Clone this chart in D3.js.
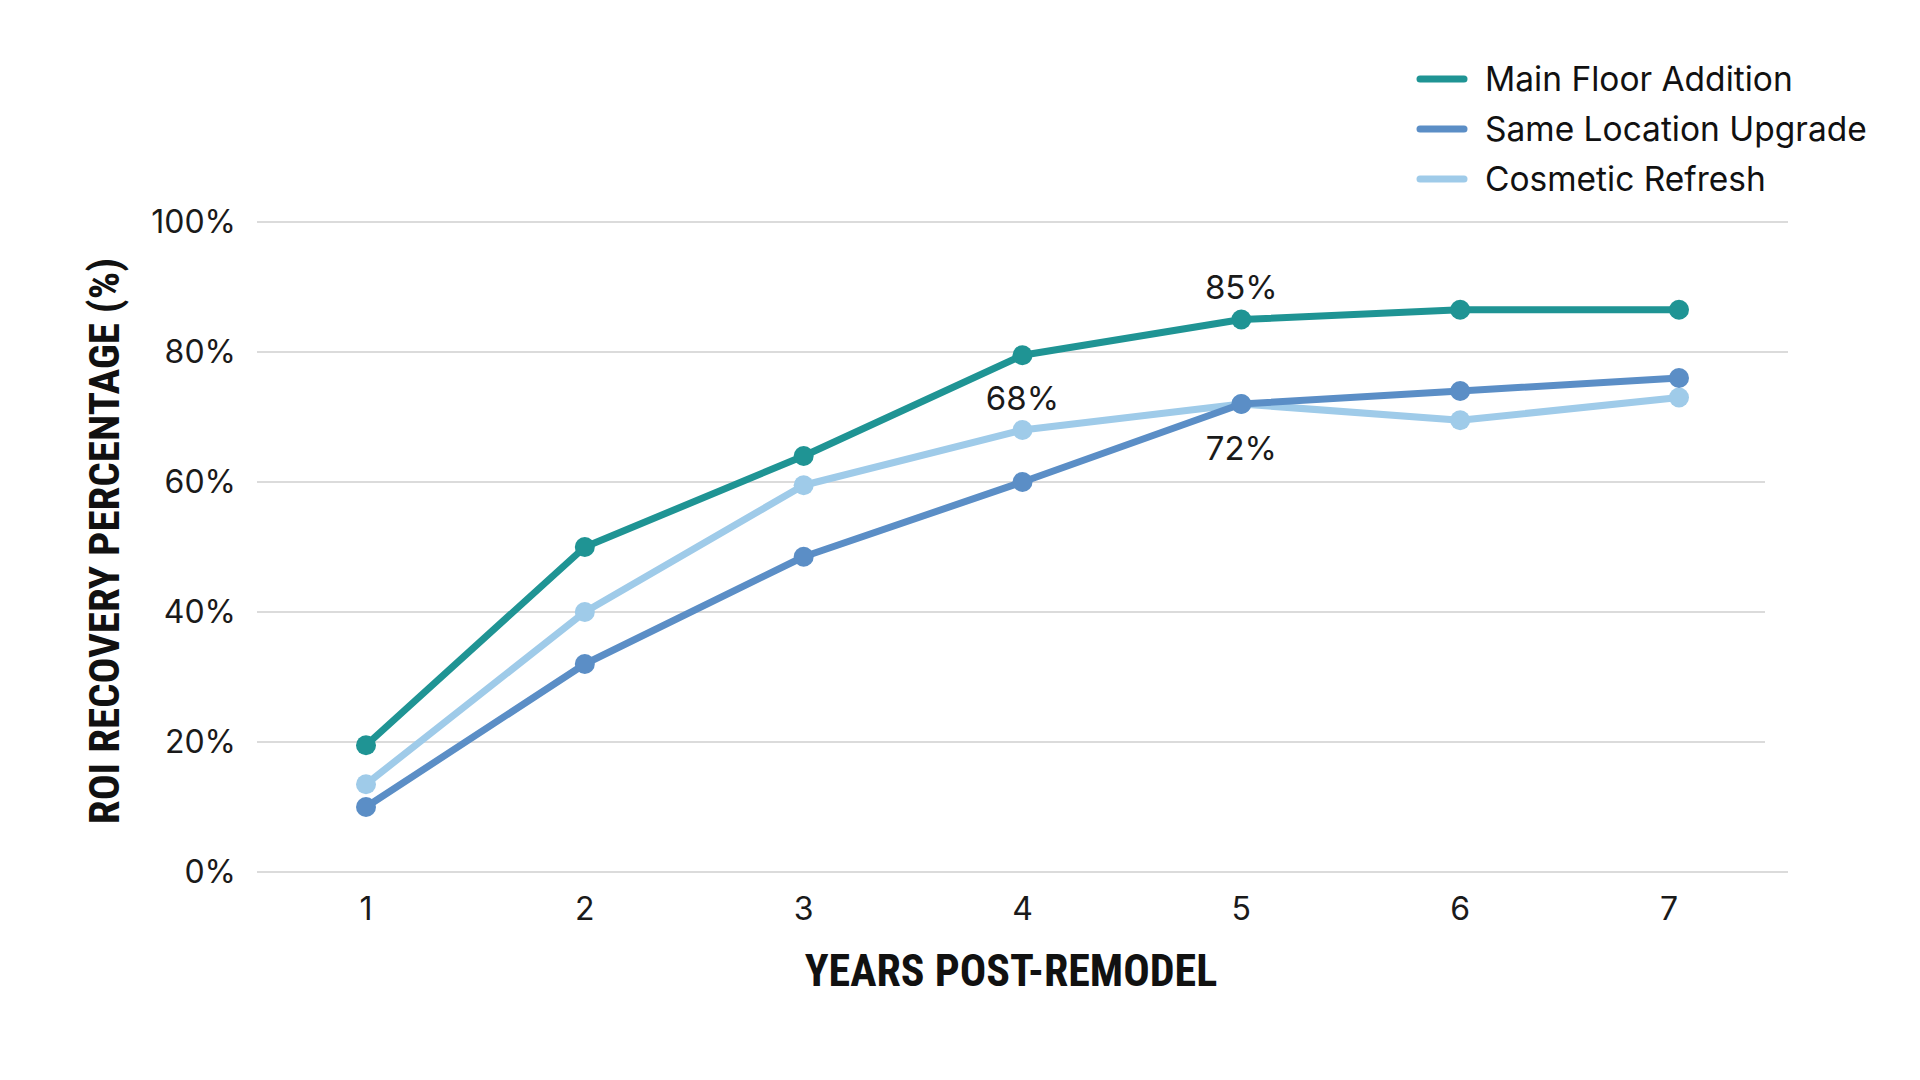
<!DOCTYPE html>
<html>
<head>
<meta charset="utf-8">
<script src="https://cdn.jsdelivr.net/npm/d3@7"></script>
<style>
  body { margin: 0; background: #fff; }
  svg { display: block; }
</style>
</head>
<body>
<svg id="chart"></svg>
<script>
// ---- data ----
const years = [1, 2, 3, 4, 5, 6, 7];
const mainFloor = [19.5, 50, 64, 79.5, 85, 86.5, 86.5];
const sameLocation = [10, 32, 48.5, 60, 72, 74, 76];
const cosmetic = [13.5, 40, 59.5, 68, 72, 69.5, 73];
const seriesNames = ["Main Floor Addition", "Same Location Upgrade", "Cosmetic Refresh"];
const seriesColors = ["#1f9494", "#5b8ec6", "#9fcbe9"];
const yTicks = [0, 20, 40, 60, 80, 100];
// annotations: [series index, year, text, placement]
const notes = [[0, 5, "85%", "above"], [2, 4, "68%", "above"], [1, 5, "72%", "below"]];

const width = 1920, height = 1080;
const font = "Inter, 'Open Sans', sans-serif";
const titleFont = "'Liberation Sans Narrow', 'Roboto Condensed', sans-serif";

const svg = d3.select("#chart").attr("width", width).attr("height", height);

const x = d3.scaleLinear().domain([1, 7]).range([366, 1679]);
const y = d3.scaleLinear().domain([0, 100]).range([872, 222]);

// gridlines (middle ones are a touch shorter in the original)
svg.append("g")
  .selectAll("line")
  .data(yTicks)
  .join("line")
    .attr("x1", 257)
    .attr("x2", d => (d > 0 && d < 80) ? 1765 : 1788)
    .attr("y1", d => y(d)).attr("y2", d => y(d))
    .attr("stroke", "#cfcfcf")
    .attr("stroke-width", 1.5);

// y tick labels
svg.append("g")
  .selectAll("text")
  .data(yTicks)
  .join("text")
    .attr("x", 236)
    .attr("y", d => y(d))
    .attr("dy", "0.35em")
    .attr("text-anchor", "end")
    .attr("font-family", font)
    .attr("font-size", 32)
    .attr("fill", "#1a1a1a")
    .text(d => d + "%");

// x tick labels
svg.append("g")
  .selectAll("text")
  .data(years)
  .join("text")
    .attr("x", d => x(d) - (d === 7 ? 10 : 0))
    .attr("y", 909)
    .attr("dy", "0.35em")
    .attr("text-anchor", "middle")
    .attr("font-family", font)
    .attr("font-size", 32)
    .attr("fill", "#1a1a1a")
    .text(d => d);

// axis titles
svg.append("text")
  .attr("x", 1011).attr("y", 971)
  .attr("dy", "0.35em")
  .attr("text-anchor", "middle")
  .attr("font-family", titleFont)
  .attr("font-weight", "bold")
  .attr("font-size", 44)
  .attr("fill", "#111")
  .text("YEARS POST-REMODEL");

svg.append("text")
  .attr("transform", "translate(104,541) rotate(-90)")
  .attr("dy", "0.35em")
  .attr("text-anchor", "middle")
  .attr("font-family", titleFont)
  .attr("font-weight", "bold")
  .attr("font-size", 43)
  .attr("fill", "#111")
  .text("ROI RECOVERY PERCENTAGE (%)");

// lines + markers
const allSeries = [mainFloor, sameLocation, cosmetic];
const line = d3.line().x((d, i) => x(years[i])).y(d => y(d));

// draw light first so darker series sit on top
[2, 1, 0].forEach(s => {
  const g = svg.append("g");
  g.append("path")
    .datum(allSeries[s])
    .attr("d", line)
    .attr("fill", "none")
    .attr("stroke", seriesColors[s])
    .attr("stroke-width", 7)
    .attr("stroke-linejoin", "round");
  g.selectAll("circle")
    .data(allSeries[s])
    .join("circle")
      .attr("cx", (d, i) => x(years[i]))
      .attr("cy", d => y(d))
      .attr("r", 10)
      .attr("fill", seriesColors[s]);
});

// value annotations
svg.append("g")
  .selectAll("text")
  .data(notes)
  .join("text")
    .attr("x", d => x(d[1]))
    .attr("y", d => y(allSeries[d[0]][years.indexOf(d[1])]) + (d[3] === "above" ? -32 : 44))
    .attr("dy", "0.35em")
    .attr("text-anchor", "middle")
    .attr("font-family", font)
    .attr("font-size", 33)
    .attr("fill", "#1a1a1a")
    .text(d => d[2]);

// legend
const legend = svg.append("g")
  .selectAll("g")
  .data(seriesNames)
  .join("g")
    .attr("transform", (d, i) => `translate(0, ${79 + i * 50})`);

legend.append("line")
  .attr("x1", 1420).attr("x2", 1464)
  .attr("stroke", (d, i) => seriesColors[i])
  .attr("stroke-width", 7)
  .attr("stroke-linecap", "round");

legend.append("text")
  .attr("x", 1485)
  .attr("dy", "0.35em")
  .attr("font-family", font)
  .attr("font-size", 33.5)
  .attr("fill", "#111")
  .text(d => d);
</script>
</body>
</html>
